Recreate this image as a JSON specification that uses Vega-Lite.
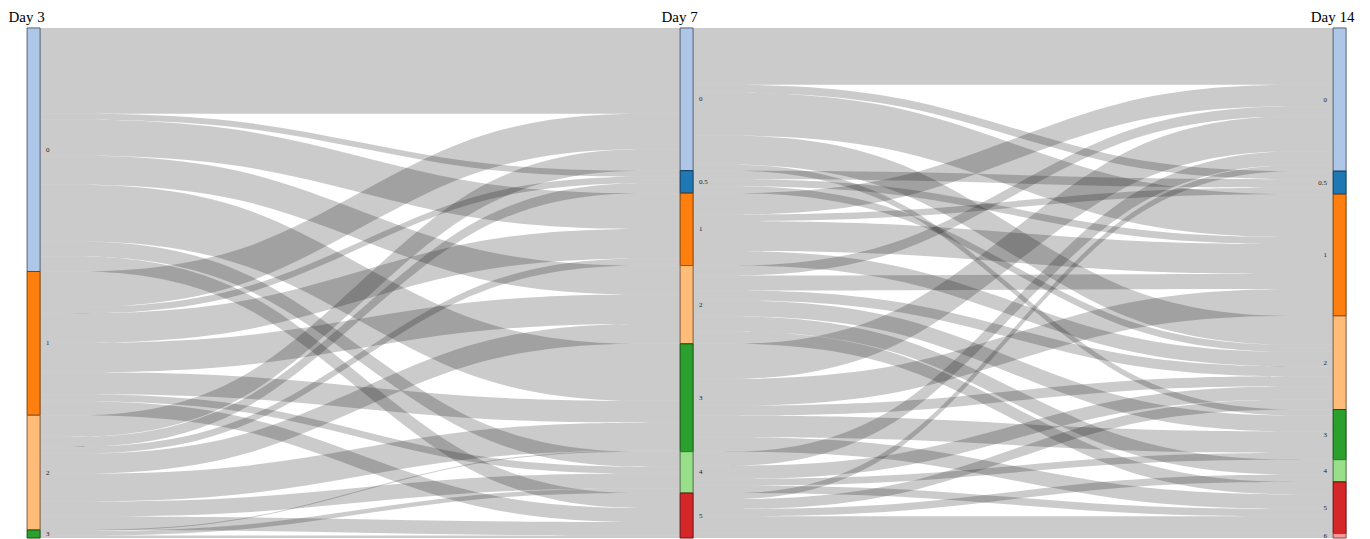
{
  "$schema": "https://vega.github.io/schema/vega-lite/v6.json",
  "width": 1370,
  "height": 539,
  "autosize": {"type": "fit", "contains": "padding"},
  "padding": 0,
  "background": "white",
  "config": {"view": {"stroke": null}},
  "datasets": {
    "flows": [
      {"stage": "a", "day3": "0", "day7": "0", "n": 86},
      {"stage": "a", "day3": "0", "day7": "0.5", "n": 6},
      {"stage": "a", "day3": "0", "day7": "1", "n": 36},
      {"stage": "a", "day3": "0", "day7": "2", "n": 29},
      {"stage": "a", "day3": "0", "day7": "3", "n": 57},
      {"stage": "a", "day3": "0", "day7": "4", "n": 15},
      {"stage": "a", "day3": "0", "day7": "5", "n": 15},
      {"stage": "a", "day3": "1", "day7": "0", "n": 35.5},
      {"stage": "a", "day3": "1", "day7": "0.5", "n": 6.5},
      {"stage": "a", "day3": "1", "day7": "1", "n": 29.5},
      {"stage": "a", "day3": "1", "day7": "2", "n": 29.5},
      {"stage": "a", "day3": "1", "day7": "3", "n": 22},
      {"stage": "a", "day3": "1", "day7": "4", "n": 7},
      {"stage": "a", "day3": "1", "day7": "5", "n": 14},
      {"stage": "a", "day3": "2", "day7": "0", "n": 21.5},
      {"stage": "a", "day3": "2", "day7": "0.5", "n": 10},
      {"stage": "a", "day3": "2", "day7": "1", "n": 7},
      {"stage": "a", "day3": "2", "day7": "2", "n": 20},
      {"stage": "a", "day3": "2", "day7": "3", "n": 28},
      {"stage": "a", "day3": "2", "day7": "4", "n": 15},
      {"stage": "a", "day3": "2", "day7": "5", "n": 13.5},
      {"stage": "a", "day3": "3", "day7": "3", "n": 1},
      {"stage": "a", "day3": "3", "day7": "4", "n": 4.5},
      {"stage": "a", "day3": "3", "day7": "5", "n": 2.5},
      {"stage": "b", "day7": "0", "day14": "0", "n": 57},
      {"stage": "b", "day7": "0", "day14": "0.5", "n": 8},
      {"stage": "b", "day7": "0", "day14": "1", "n": 43},
      {"stage": "b", "day7": "0", "day14": "2", "n": 29},
      {"stage": "b", "day7": "0", "day14": "3", "n": 6},
      {"stage": "b", "day7": "0.5", "day14": "0.5", "n": 8.5},
      {"stage": "b", "day7": "0.5", "day14": "1", "n": 7},
      {"stage": "b", "day7": "0.5", "day14": "2", "n": 7},
      {"stage": "b", "day7": "1", "day14": "0", "n": 21.5},
      {"stage": "b", "day7": "1", "day14": "0.5", "n": 6.5},
      {"stage": "b", "day7": "1", "day14": "1", "n": 30},
      {"stage": "b", "day7": "1", "day14": "2", "n": 14.5},
      {"stage": "b", "day7": "2", "day14": "0", "n": 10},
      {"stage": "b", "day7": "2", "day14": "1", "n": 15},
      {"stage": "b", "day7": "2", "day14": "2", "n": 10},
      {"stage": "b", "day7": "2", "day14": "3", "n": 16},
      {"stage": "b", "day7": "2", "day14": "4", "n": 15},
      {"stage": "b", "day7": "2", "day14": "5", "n": 12.5},
      {"stage": "b", "day7": "3", "day14": "0", "n": 35},
      {"stage": "b", "day7": "3", "day14": "1", "n": 27},
      {"stage": "b", "day7": "3", "day14": "2", "n": 10},
      {"stage": "b", "day7": "3", "day14": "3", "n": 21.5},
      {"stage": "b", "day7": "3", "day14": "5", "n": 14.5},
      {"stage": "b", "day7": "4", "day14": "0", "n": 14},
      {"stage": "b", "day7": "4", "day14": "2", "n": 13.3},
      {"stage": "b", "day7": "4", "day14": "3", "n": 6.7},
      {"stage": "b", "day7": "4", "day14": "5", "n": 7.5},
      {"stage": "b", "day7": "5", "day14": "0", "n": 6},
      {"stage": "b", "day7": "5", "day14": "2", "n": 10},
      {"stage": "b", "day7": "5", "day14": "4", "n": 7.3},
      {"stage": "b", "day7": "5", "day14": "5", "n": 17.2},
      {"stage": "b", "day7": "5", "day14": "6", "n": 4.5}
    ],
    "titles": [
      {"col": 1, "day": "Day 3"},
      {"col": 4, "day": "Day 7"},
      {"col": 7, "day": "Day 14"}
    ]
  },
  "encoding": {
    "x": {"field": "col", "type": "quantitative", "scale": {"domain": [0.84563, 7.13966], "nice": false, "zero": false, "padding": 0}, "axis": null}
  },
  "layer": [
    {
      "data": {"name": "flows"},
      "transform": [
        {"fold": ["day3", "day3", "day7", "day7", "day7", "day14", "day14"], "as": ["day", "node"]},
        {"window": [{"op": "row_number", "as": "col"}], "groupby": ["stage", "day3", "day7", "day14"]},
        {"filter": "isValid(datum.node) && (datum.stage === 'a' ? datum.col <= 4 : datum.col >= 4)"},
        {"stack": "n", "groupby": ["stage", "col"], "sort": [{"field": "node"}, {"field": "day3"}, {"field": "day7"}, {"field": "day14"}], "as": ["y0", "y1"]}
      ],
      "mark": {"type": "area", "orient": "vertical", "interpolate": "basis", "fill": "#000", "fillOpacity": 0.205},
      "encoding": {
        "y": {"field": "y0", "type": "quantitative", "stack": null, "scale": {"domain": [-28, 511], "reverse": true, "nice": false, "zero": false}, "axis": null},
        "y2": {"field": "y1"},
        "detail": [{"field": "stage"}, {"field": "day3"}, {"field": "day7"}, {"field": "day14"}]
      }
    },
    {
      "data": {"name": "flows"},
      "transform": [
        {"fold": ["day3", "day3", "day7", "day7", "day7", "day14", "day14"], "as": ["day", "node"]},
        {"window": [{"op": "row_number", "as": "col"}], "groupby": ["stage", "day3", "day7", "day14"]},
        {"filter": "isValid(datum.node) && (datum.col === 1 || datum.col === 7 || (datum.col === 4 && datum.stage === 'a'))"},
        {"aggregate": [{"op": "sum", "field": "n", "as": "n"}], "groupby": ["col", "node"]}
      ],
      "layer": [
        {
          "mark": {"type": "bar", "width": 13, "strokeWidth": 1},
          "encoding": {
            "y": {"field": "n", "type": "quantitative", "stack": "zero"},
            "order": {"field": "node", "type": "ordinal", "sort": "ascending"},
            "fill": {"field": "node", "type": "nominal", "legend": null, "scale": {"domain": ["0", "0.5", "1", "2", "3", "4", "5", "6"], "range": ["#aec7e8", "#1f77b4", "#ff7f0e", "#ffbb78", "#2ca02c", "#98df8a", "#d62728", "#ff9896"]}},
            "stroke": {"field": "node", "type": "nominal", "legend": null, "scale": {"domain": ["0", "0.5", "1", "2", "3", "4", "5", "6"], "range": ["#556272", "#0f3a58", "#7d3e07", "#7d5c3b", "#164e16", "#4a6d44", "#691314", "#7d4a49"]}}
          }
        },
        {
          "transform": [{"filter": "datum.col < 7"}],
          "mark": {"type": "text", "align": "left", "baseline": "middle", "dx": 12.5, "fontSize": 7, "font": "Liberation Serif", "color": "#222"},
          "encoding": {
            "y": {"field": "n", "type": "quantitative", "stack": "zero", "bandPosition": 0.5},
            "detail": {"field": "node"},
            "order": {"field": "node", "type": "ordinal", "sort": "ascending"},
            "text": {"field": "node"}
          }
        },
        {
          "transform": [{"filter": "datum.col === 7"}],
          "mark": {"type": "text", "align": "right", "baseline": "middle", "dx": -12.5, "fontSize": 7, "font": "Liberation Serif", "color": "#222"},
          "encoding": {
            "y": {"field": "n", "type": "quantitative", "stack": "zero", "bandPosition": 0.5},
            "detail": {"field": "node"},
            "order": {"field": "node", "type": "ordinal", "sort": "ascending"},
            "text": {"field": "node"}
          }
        }
      ]
    },
    {
      "data": {"name": "titles"},
      "mark": {"type": "text", "align": "center", "baseline": "alphabetic", "dx": -7, "fontSize": 15, "font": "Liberation Serif", "color": "#000"},
      "encoding": {
        "y": {"datum": -6.3},
        "text": {"field": "day"}
      }
    }
  ]
}
